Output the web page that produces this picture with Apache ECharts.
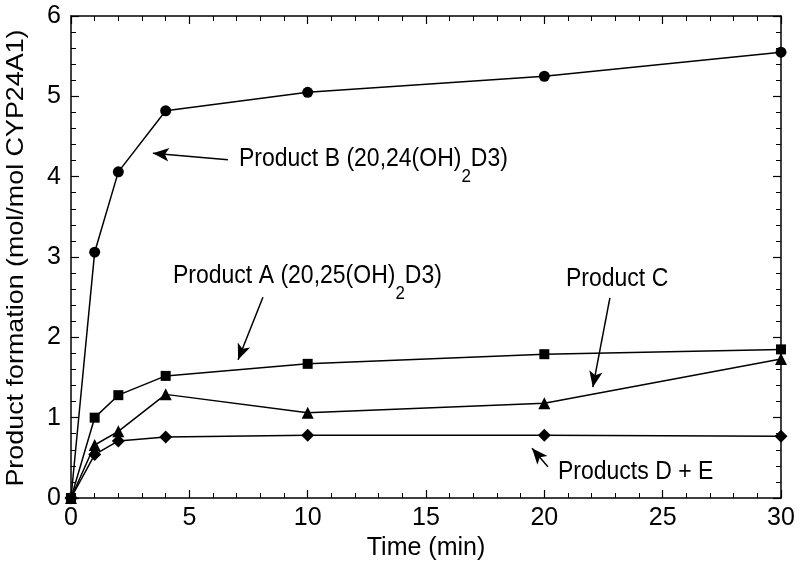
<!DOCTYPE html>
<html>
<head>
<meta charset="utf-8">
<script src="https://cdn.jsdelivr.net/npm/echarts@6/dist/echarts.min.js"></script>
<style>
html, body { margin: 0; padding: 0; background: #fff; }
#chart { width: 800px; height: 567px; }
</style>
</head>
<body>
<div id="chart"></div>
<script>
const times = [0, 1, 2, 4, 10, 20, 30]
const productB = [0, 3.06, 4.06, 4.82, 5.05, 5.25, 5.55]
const productA = [0, 1.0, 1.28, 1.52, 1.67, 1.79, 1.85]
const productC = [0, 0.66, 0.83, 1.29, 1.06, 1.18, 1.73]
const productDE = [0, 0.54, 0.71, 0.76, 0.78, 0.78, 0.77]

// arrow annotations, [tail, head] in data units
const arrows = [
    [[6.63, 4.21], [3.46, 4.29]],
    [[8.11, 2.50], [7.06, 1.72]],
    [[22.77, 2.49], [22.05, 1.38]],
    [[20.15, 0.39], [19.48, 0.62]]
]

const FONT = '"Liberation Sans", Arial, Helvetica, sans-serif'

const pairs = vals => times.map((t, i) => [t, vals[i]])

const makeSeries = (name, vals, symbol, size) => ({
    name: name,
    type: 'line',
    data: pairs(vals),
    symbol: symbol,
    symbolSize: size,
    showAllSymbol: true,
    lineStyle: { color: '#000', width: 1.5 },
    itemStyle: { color: '#000' },
    animation: false
})

const axisCommon = {
    type: 'value',
    axisLine: { show: true, onZero: false, lineStyle: { color: '#000', width: 1.5 } },
    axisTick: { show: true, inside: true, length: 8, lineStyle: { color: '#000', width: 1.2 } },
    minorTick: { show: true, splitNumber: 5, length: 5, lineStyle: { color: '#000', width: 1 } },
    splitLine: { show: false },
    axisLabel: { color: '#000', fontSize: 25, fontFamily: FONT }
}

const richText = {
    a: { fontSize: 23, fontFamily: FONT, fill: '#000', padding: [0, 0, 13, 0], verticalAlign: 'bottom' },
    s: { fontSize: 17, fontFamily: FONT, fill: '#000', verticalAlign: 'bottom' }
}

// annotation text, stretched a little vertically like the original figure
const note = (text, left, top, rich) => ({
    type: 'text', left: left, top: top,
    originY: 12, scaleY: 1.12,
    style: rich
        ? { text: text, rich: richText }
        : { text: text, fontSize: 23, fontFamily: FONT, fill: '#000' }
})

const chart = echarts.init(document.getElementById('chart'))
const option = {
    animation: false,
    grid: { left: 71, right: 19, top: 16, bottom: 69 },
    xAxis: [
        Object.assign({}, axisCommon, {
            min: 0, max: 30, interval: 5,
            name: 'Time (min)',
            nameLocation: 'middle',
            nameGap: 35,
            nameTextStyle: { color: '#000', fontSize: 25, fontFamily: FONT },
            axisLabel: { color: '#000', fontSize: 25, fontFamily: FONT, margin: 8 }
        }),
        Object.assign({}, axisCommon, {
            min: 0, max: 30, interval: 5, position: 'top',
            axisLabel: { show: false }
        })
    ],
    yAxis: [
        Object.assign({}, axisCommon, {
            min: 0, max: 6, interval: 1,
            axisLabel: { color: '#000', fontSize: 25, fontFamily: FONT, margin: 10 }
        }),
        Object.assign({}, axisCommon, {
            min: 0, max: 6, interval: 1, position: 'right',
            axisLabel: { show: false }
        })
    ],
    series: [
        makeSeries('Product B', productB, 'circle', 11),
        makeSeries('Product A', productA, 'rect', 10),
        makeSeries('Product C', productC, 'triangle', 12),
        makeSeries('Products D + E', productDE, 'diamond', 13),
        {
            type: 'line',
            data: [],
            silent: true,
            markLine: {
                silent: true,
                animation: false,
                symbol: ['none', 'arrow'],
                symbolSize: [10, 16],
                label: { show: false },
                lineStyle: { color: '#000', width: 1.5, type: 'solid' },
                data: arrows.map(a => [{ coord: a[0] }, { coord: a[1] }])
            }
        }
    ],
    graphic: [
        {
            type: 'text', x: 16, y: 258, rotation: Math.PI / 2, scaleX: 1.12,
            style: {
                text: 'Product formation (mol/mol CYP24A1)',
                fontSize: 24, fontFamily: FONT, fill: '#000',
                align: 'center', verticalAlign: 'middle'
            }
        },
        note('{a|Product B (20,24(OH)}{s|2}{a|D3)}', 239, 146, true),
        note('{a|Product A (20,25(OH)}{s|2}{a|D3)}', 173, 263, true),
        note('Product C', 566, 266, false),
        note('Products D + E', 558, 459, false)
    ]
}
chart.setOption(option)
</script>
</body>
</html>
